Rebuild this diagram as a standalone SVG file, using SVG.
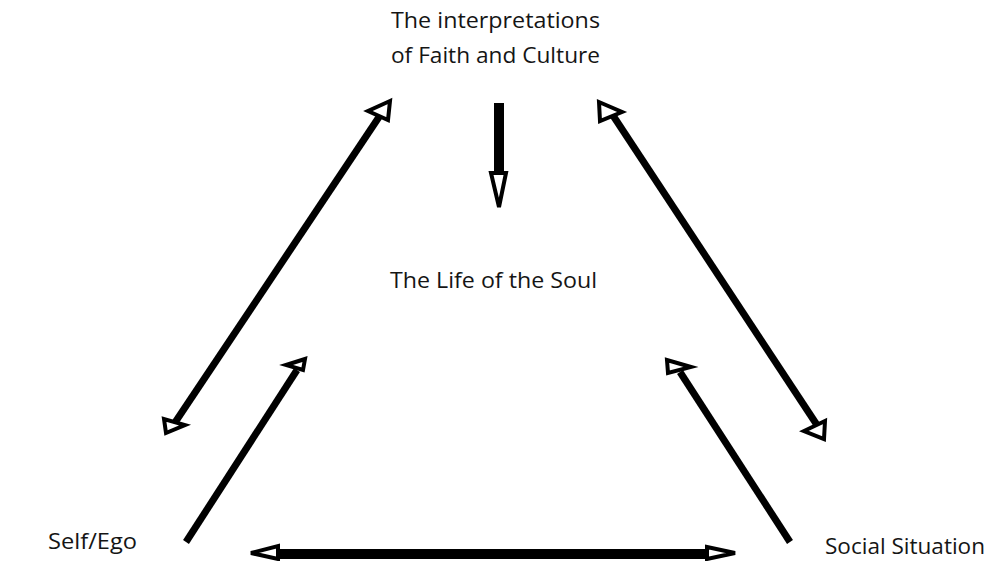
<svg xmlns="http://www.w3.org/2000/svg" width="990" height="561" viewBox="0 0 990 561">
<style>
.lbl{font-family:"Open Sans","Liberation Sans",sans-serif;font-size:22px;fill:#151515;}
.ln{stroke:#000;stroke-width:7;stroke-linecap:butt;fill:none;}
.thick{stroke:#000;stroke-width:10;fill:none;}
.head{fill:#fff;stroke:#000;stroke-width:4;stroke-linejoin:miter;}
</style>
<rect width="990" height="561" fill="#fff"/>
<g id="faith">
<text class="lbl" x="391" y="28" textLength="209" lengthAdjust="spacingAndGlyphs">The interpretations</text>
<text class="lbl" x="391" y="63" textLength="209" lengthAdjust="spacingAndGlyphs">of Faith and Culture</text>
</g>
<g id="soul"><text class="lbl" x="390" y="288" textLength="207" lengthAdjust="spacingAndGlyphs">The Life of the Soul</text></g>
<g id="self"><text class="lbl" x="48" y="549" textLength="89" lengthAdjust="spacingAndGlyphs">Self/Ego</text></g>
<g id="social"><text class="lbl" x="825" y="554" style="font-size:21px" textLength="160" lengthAdjust="spacingAndGlyphs">Social Situation</text></g>
<g id="connectors">
<line class="ln" x1="174" y1="424" x2="381" y2="114"/>
<polygon class="head" points="390,101 368,111 388,120"/>
<polygon class="head" points="164,419 166,433 185,425"/>
<line class="ln" x1="186" y1="542" x2="297" y2="370"/>
<polygon class="head" points="305,359 286,365 303,370"/>
<line class="ln" x1="612" y1="114" x2="817" y2="425"/>
<polygon class="head" points="599,102 600,121 622,112"/>
<polygon class="head" points="825,421 824,439 804,431"/>
<line class="ln" x1="790" y1="542" x2="680" y2="372"/>
<polygon class="head" points="667,360 668,373 691,367"/>
<line class="thick" x1="499" y1="103" x2="499" y2="172"/>
<polygon class="head" points="491,173 506,173 499,207"/>
<line class="thick" x1="278" y1="554" x2="707" y2="554"/>
<polygon class="head" points="251,553 278,546 278,559"/>
<polygon class="head" points="707,547 735,553 707,559"/>
</g>
</svg>
